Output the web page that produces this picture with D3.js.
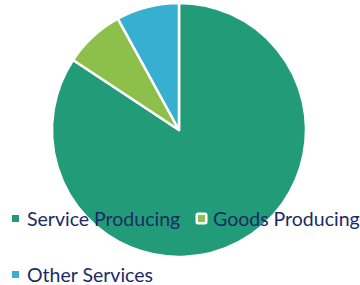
<!DOCTYPE html>
<html>
<head>
<meta charset="utf-8">
<script src="https://cdn.jsdelivr.net/npm/d3@7"></script>
<style>
  body { margin: 0; background: #fff; }
  svg { display: block; }
</style>
</head>
<body>
<svg id="chart" width="360" height="285"></svg>
<script>
// data
const categories = ['Service Producing', 'Goods Producing', 'Other Services'];
const shares = [84.3, 7.7, 8.0];
const colors = ['#229b78', '#8dc04a', '#36afd0'];

const svg = d3.select('#chart');
const cx = 179, cy = 130, radius = 127;

const pie = d3.pie().sort(null).value(d => d.value);
const arc = d3.arc().innerRadius(0).outerRadius(radius);
const data = categories.map((c, i) => ({ name: c, value: shares[i], color: colors[i] }));

svg.append('g')
  .attr('transform', `translate(${cx},${cy})`)
  .selectAll('path')
  .data(pie(data))
  .join('path')
  .attr('d', arc)
  .attr('fill', d => d.data.color)
  .attr('stroke', '#fff')
  .attr('stroke-width', 2.5)
  .attr('stroke-linejoin', 'round');

// legend
const legendPos = [[12, 226], [198, 226], [12, 282]];
const legend = svg.append('g')
  .selectAll('g')
  .data(data)
  .join('g')
  .attr('transform', (d, i) => `translate(${legendPos[i][0]},${legendPos[i][1]})`);

legend.append('rect')
  .attr('x', 0).attr('y', -11)
  .attr('width', 7).attr('height', 7)
  .attr('fill', d => d.color)
  .attr('stroke', '#fff')
  .attr('stroke-width', 5)
  .attr('stroke-linejoin', 'round')
  .attr('paint-order', 'stroke');

legend.append('text')
  .attr('x', 15)
  .attr('font-family', 'Lato, sans-serif')
  .attr('font-size', 19.5)
  .attr('fill', '#1b2a66')
  .text(d => d.name);
</script>
</body>
</html>
